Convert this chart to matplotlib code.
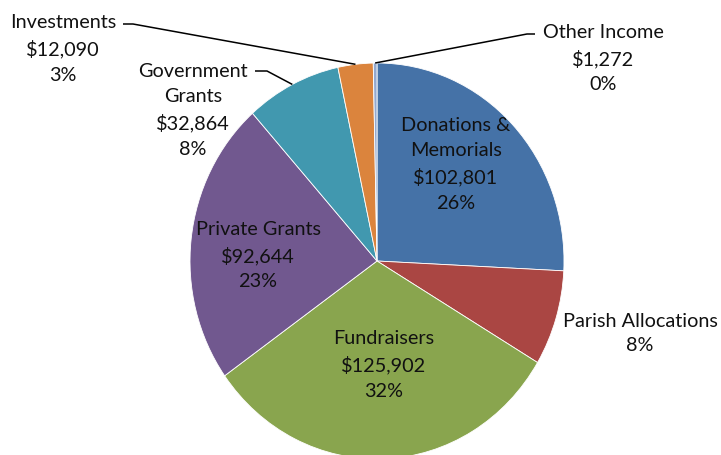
import matplotlib
matplotlib.use('Agg')
import matplotlib.pyplot as plt
import numpy as np

categories = ['Donations &\nMemorials', 'Parish Allocations', 'Fundraisers',
              'Private Grants', 'Government\nGrants', 'Investments', 'Other Income']
values = [102801, 31000, 125902, 92644, 32864, 12090, 1272]
show_value = [True, False, True, True, True, True, True]
colors = ['#4572A7', '#AA4643', '#89A54E', '#71588F', '#4198AF', '#DB843D', '#93A9CF']

W, H = 721, 456
K = 198 / 187  # vertical stretch of the pie

plt.rcParams['font.family'] = ['Lato', 'DejaVu Sans']

fig = plt.figure(figsize=(7.21, 4.56), dpi=100)
ax = fig.add_axes([0, 0, 1, 1])


def P(px, py):
    return px, (H - py) / K


cx, cy = P(377, 262)
R = 187
wedges, _ = ax.pie(values, colors=colors, startangle=90, counterclock=False,
                   center=(cx, cy), radius=R, frame=True,
                   wedgeprops=dict(linewidth=0.6, edgecolor='#ffffff'))
ax.set_aspect('auto')
ax.set_xlim(0, W)
ax.set_ylim(0, H / K)
ax.axis('off')

total = sum(values)

# label layout (pixel positions of block centres)
label_pos = [(456, 164.5), (640, 333.5), (384, 365), (258, 255.5),
             (193, 110.5), (63, 49), (603, 58.5)]
# leader lines: (text end, elbow) or None
leaders = [None, None, None, None,
           ((255, 72), (267, 72)),
           ((123, 25), (133, 25)),
           ((535, 35), (527, 35))]

for i, (cat, v) in enumerate(zip(categories, values)):
    pct = round(v / total * 100)
    txt = cat
    if show_value[i]:
        txt += '\n$' + f'{v:,}'
    txt += f'\n{pct}%'
    x, y = P(*label_pos[i])
    ax.text(x, y, txt, ha='center', va='center', multialignment='center',
            fontsize=14.3, linespacing=1.57, color='#111111')
    if leaders[i] is not None:
        w = wedges[i]
        th = np.deg2rad((w.theta1 + w.theta2) / 2)
        ex, ey = cx + R * np.cos(th), cy + R * np.sin(th)
        (ax1, ay1), (ax2, ay2) = leaders[i]
        p1 = P(ax1, ay1)
        p2 = P(ax2, ay2)
        ax.plot([p1[0], p2[0], ex], [p1[1], p2[1], ey], color='black', lw=1.1,
                solid_capstyle='butt')

fig.savefig('out.png', dpi=100)
